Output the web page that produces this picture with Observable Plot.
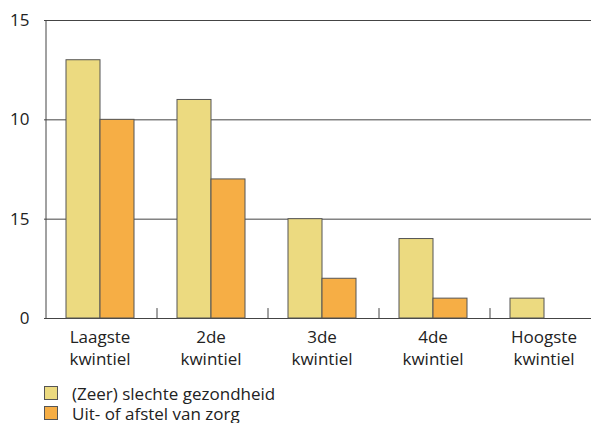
<!DOCTYPE html>
<html>
<head>
<meta charset="utf-8">
<script src="https://cdn.jsdelivr.net/npm/d3@7"></script>
<script src="https://cdn.jsdelivr.net/npm/@observablehq/plot@0.6"></script>
<style>
  html, body { margin: 0; padding: 0; background: #fff; overflow: hidden; }
  body { font-family: "Open Sans", sans-serif; color: #222; }
  #legend { padding-left: 44px; font-size: 17px; }
  .item { display: flex; align-items: center; height: 20px; }
  .item span { line-height: 17px; }
  .sw { width: 14px; height: 14px; border: 1px solid #555; margin-right: 14px; box-sizing: border-box; }
</style>
</head>
<body>
<div id="chart"></div>
<div id="legend"></div>
<script>
const categories = ["Laagste kwintiel", "2de kwintiel", "3de kwintiel", "4de kwintiel", "Hoogste kwintiel"];
const categoryLabels = ["Laagste\nkwintiel", "2de\nkwintiel", "3de\nkwintiel", "4de\nkwintiel", "Hoogste\nkwintiel"];
const series = ["(Zeer) slechte gezondheid", "Uit- of afstel van zorg"];
const slechteGezondheid = [13, 11, 5, 4, 1];
const uitstelZorg = [10, 7, 2, 1, 0];
const yTicks = [0, 5, 10, 15];
const yTickLabels = ["0", "15", "10", "15"];
const colors = ["#ECDA80", "#F6AE45"];

const data = [];
categories.forEach((c, i) => {
  data.push({category: c, series: series[0], value: slechteGezondheid[i]});
  if (uitstelZorg[i] > 0) data.push({category: c, series: series[1], value: uitstelZorg[i]});
});

const plot = Plot.plot({
  width: 591,
  height: 383,
  marginLeft: 44,
  marginRight: 0,
  marginTop: 20,
  marginBottom: 65,
  style: {fontFamily: "Open Sans, sans-serif", fontSize: "17px", color: "#222", background: "#fff"},
  fx: {domain: categories, padding: 0, range: [44, 599], axis: null, label: null},
  x: {domain: series, paddingInner: 0, paddingOuter: 0.586, axis: null},
  y: {domain: [0, 15], axis: null},
  color: {domain: series, range: colors},
  marks: [
    Plot.ruleY(yTicks, {stroke: "#444", strokeWidth: 1}),
    Plot.barY(data, {fx: "category", x: "series", y: "value", fill: "series", stroke: "#555", strokeWidth: 1}),
    Plot.ruleX(categories.slice(1), {fx: d => d, x: () => series[0], dx: -37.5, y1: 0, y2: 0.5, stroke: "#444"}),
    Plot.ruleX([categories[0]], {fx: d => d, x: () => series[0], dx: -37.5, y1: 0, y2: 15, stroke: "#444"}),
    Plot.axisY(yTicks, {facetAnchor: "left", anchor: "left", tickSize: 0, tickPadding: 15, label: null, fontSize: 17, tickFormat: d => yTickLabels[yTicks.indexOf(d)], fill: "#222"}),
    Plot.text(categories, {fx: d => d, frameAnchor: "bottom", lineAnchor: "top", dy: 10, lineHeight: 1.24, fontSize: 17, fill: "#222", text: d => categoryLabels[categories.indexOf(d)]})
  ]
});
document.getElementById("chart").appendChild(plot);

const legend = document.getElementById("legend");
series.forEach((s, i) => {
  const item = document.createElement("div");
  item.className = "item";
  const sw = document.createElement("div");
  sw.className = "sw";
  sw.style.background = colors[i];
  const t = document.createElement("span");
  t.textContent = s;
  item.appendChild(sw);
  item.appendChild(t);
  legend.appendChild(item);
});
</script>
</body>
</html>
